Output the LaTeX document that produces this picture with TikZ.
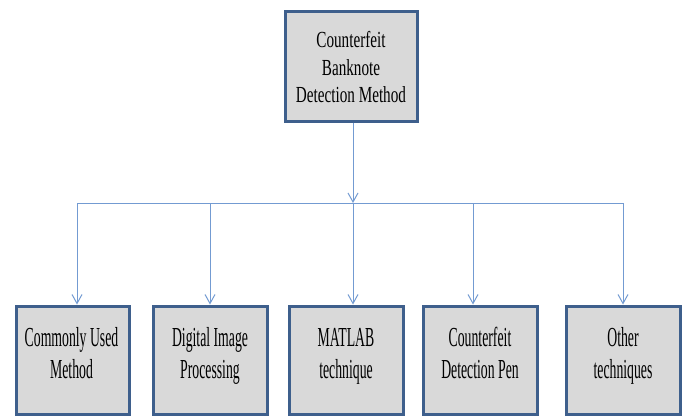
\documentclass[tikz,border=0pt]{standalone}
\usepackage{fontspec}
\setmainfont{Liberation Serif}
\newfontfamily\rootfont{Liberation Serif}[FakeStretch=0.66]
\newfontfamily\leaffont{Liberation Serif}[FakeStretch=0.50]
\usetikzlibrary{arrows.meta}
\definecolor{boxedge}{HTML}{3E5F8C}
\definecolor{boxfill}{HTML}{D9D9D9}
\definecolor{wire}{HTML}{739BD2}
\tikzset{
  catbox/.style={draw=boxedge, fill=boxfill, line width=3pt, inner sep=0pt},
  roottext/.style={align=center, inner sep=0pt, font=\rootfont\fontsize{23}{27.8}\selectfont},
  leaftext/.style={align=center, inner sep=0pt, font=\leaffont\fontsize{27.5}{31.5}\selectfont},
  link/.style={draw=wire, line width=1pt},
  linkarrow/.style={link, -{Straight Barb[length=9pt,width=10pt,line width=1pt]}},
}
\begin{document}
\begin{tikzpicture}[x=1pt,y=-1pt]
\useasboundingbox (0,0) rectangle (685,416);

% root box
\node[catbox, minimum width=132pt, minimum height=110pt] (root) at (351,66) {};
\node[roottext] (roottxt) at (351,69.5)
  {\strut Counterfeit\\Banknote\\Detection Method\strut};

% leaf boxes
\foreach \n/\xa/\xb in {b1/16/129, b2/153/267, b3/289/403, b4/423/537, b5/566/680}{
  \node[catbox, minimum width={\xb-\xa}, minimum height=108.5pt]
    (\n) at ({(\xa+\xb)/2},360.25) {};
}
\node[leaftext] (t1) at (71.5,356) {\strut Commonly Used\\Method\strut};
\node[leaftext] (t2) at (210,356) {\strut Digital Image\\Processing\strut};
\node[leaftext] (t3) at (346,356) {\strut MATLAB\\technique\strut};
\node[leaftext] (t4) at (480,356) {\strut Counterfeit\\Detection Pen\strut};
\node[leaftext] (t5) at (623,356) {\strut Other\\techniques\strut};

% bus line and drops
\coordinate (hub) at (353,203);
\coordinate (busL) at (77,203);
\coordinate (busR) at (623,203);
\foreach \n/\x in {d1/77, d2/210, d3/353, d4/473, d5/623}{
  \coordinate (\n) at (\x,203);
}
\draw[link] (busL) -- (busR);
\draw[linkarrow] (hub |- root.south) -- (hub);
\foreach \d/\b in {d1/b1, d2/b2, d3/b3, d4/b4, d5/b5}{
  \draw[linkarrow] (\d) -- (\d |- \b.north);
}
\end{tikzpicture}
\end{document}
